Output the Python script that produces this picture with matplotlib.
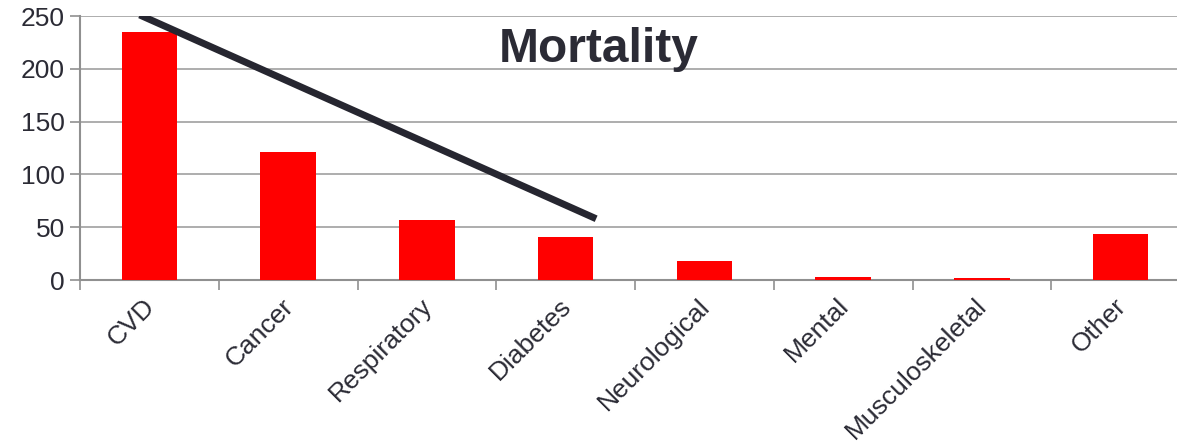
import numpy as np
import matplotlib.pyplot as plt
import matplotlib.transforms as mtransforms
from matplotlib.ticker import FixedLocator

categories = ['CVD', 'Cancer', 'Respiratory', 'Diabetes', 'Neurological',
              'Mental', 'Musculoskeletal', 'Other']
mortality = [235, 121, 57, 41, 18, 3, 2, 44]

# overlaid trend stroke (category position, value)
trend_x = [-0.07, 3.22]
trend_y = [251, 58]

plt.rcParams['font.family'] = ['Liberation Sans', 'DejaVu Sans']

fig = plt.figure(figsize=(11.77, 4.48), dpi=100)
ax = fig.add_axes([80 / 1177, 1 - 280 / 448, 1110 / 1177, 264 / 448])

x = np.arange(len(categories))
ax.bar(x, mortality, width=0.4, color='#ff0000', zorder=3)
ax.plot(trend_x, trend_y, color='#262630', lw=5, solid_capstyle='butt', zorder=4)

ax.set_xlim(-0.5, len(categories) - 0.5)
ax.set_ylim(0, 250)
ax.set_yticks(range(0, 251, 50))
ax.yaxis.grid(True, color='#a0a0a0', lw=1.2, zorder=0)

ax.set_xticks(x)
ax.set_xticklabels(categories, rotation=45, ha='right', rotation_mode='anchor',
                   fontsize=19, color='#2b2b35')
ax.tick_params(axis='x', which='major', length=0, pad=10)
shift = mtransforms.ScaledTranslation(-7 / 100, 0, fig.dpi_scale_trans)
for lbl in ax.get_xticklabels():
    lbl.set_transform(lbl.get_transform() + shift)
ax.xaxis.set_minor_locator(FixedLocator(np.arange(-0.5, len(categories), 1.0)))
ax.tick_params(axis='x', which='minor', length=7, width=1.2, color='#909090')
ax.tick_params(axis='y', labelsize=19, labelcolor='#2b2b35', length=7,
               width=1.2, color='#909090', pad=4)

for side in ['top', 'right']:
    ax.spines[side].set_visible(False)
for side in ['left', 'bottom']:
    ax.spines[side].set_color('#909090')
    ax.spines[side].set_linewidth(1.5)

ax.text(3.24, 218, 'Mortality', fontsize=34.5, fontweight='bold', color='#2b2b35',
        ha='center', va='center', zorder=5)

fig.savefig('out.png', dpi=100)
